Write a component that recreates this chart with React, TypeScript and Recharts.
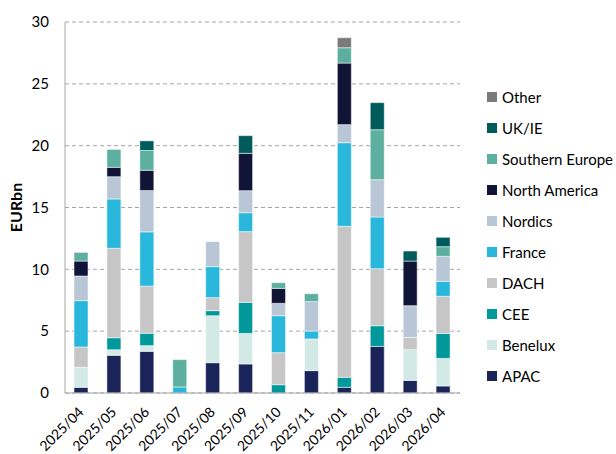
import { Bar, BarChart, CartesianGrid, XAxis, YAxis } from 'recharts'

const months = [
  '2025/04', '2025/05', '2025/06', '2025/07', '2025/08', '2025/09',
  '2025/10', '2025/11', '2026/01', '2026/02', '2026/03', '2026/04',
]

// EURbn per region and month
const apac = [0.46, 3.05, 3.37, 0, 2.45, 2.35, 0, 1.81, 0.46, 3.77, 1.02, 0.57]
const benelux = [1.62, 0.45, 0.46, 0, 3.8, 2.47, 0, 2.56, 0, 0, 2.48, 2.23]
const cee = [0, 0.97, 1.0, 0, 0.41, 2.51, 0.67, 0, 0.81, 1.67, 0, 2.02]
const dach = [1.64, 7.23, 3.81, 0, 1.05, 5.72, 2.59, 0, 12.21, 4.61, 1.0, 3.0]
const france = [3.75, 3.99, 4.39, 0.49, 2.51, 1.53, 2.99, 0.64, 6.76, 4.18, 0, 1.21]
const nordics = [1.99, 1.8, 3.34, 0, 2.02, 1.78, 1.0, 2.38, 1.46, 3.02, 2.56, 2.02]
const northAmerica = [1.21, 0.76, 1.64, 0, 0, 3.02, 1.21, 0, 4.98, 0, 3.61, 0]
const southernEurope = [0.7, 1.45, 1.6, 2.21, 0, 0, 0.46, 0.64, 1.24, 4.04, 0, 0.78]
const ukIe = [0, 0, 0.78, 0, 0, 1.43, 0, 0, 0, 2.19, 0.81, 0.76]
const other = [0, 0, 0, 0, 0, 0, 0, 0, 0.81, 0, 0, 0]

const yTicks = [0, 5, 10, 15, 20, 25, 30]

const series = [
  { key: 'APAC', values: apac, color: '#1b2459' },
  { key: 'Benelux', values: benelux, color: '#d3e9e5' },
  { key: 'CEE', values: cee, color: '#00989b' },
  { key: 'DACH', values: dach, color: '#c6c6c6' },
  { key: 'France', values: france, color: '#29b8db' },
  { key: 'Nordics', values: nordics, color: '#b8c6d6' },
  { key: 'North America', values: northAmerica, color: '#111437' },
  { key: 'Southern Europe', values: southernEurope, color: '#5db09f' },
  { key: 'UK/IE', values: ukIe, color: '#005c5c' },
  { key: 'Other', values: other, color: '#7a7a7a' },
]

const rows = months.map((month, i) => {
  const row: Record<string, string | number> = { month }
  series.forEach((s) => {
    row[s.key] = s.values[i]
  })
  return row
})

const FONT = 'Lato, "Liberation Sans", sans-serif'

const MonthTick = ({ x, y, payload }: any) => (
  <text
    x={x + 3}
    y={y + 12}
    transform={`rotate(-45 ${x + 3} ${y + 12})`}
    textAnchor="end"
    fontSize={14}
    fill="#000"
    fontFamily={FONT}
  >
    {payload.value}
  </text>
)

// legend sits beside the plot, top entry first
const LegendList = () => (
  <div
    style={{
      position: 'absolute',
      left: 487,
      top: 81,
      fontFamily: FONT,
      fontSize: 15,
      color: '#000',
    }}
  >
    {[...series].reverse().map((s) => (
      <div key={s.key} style={{ display: 'flex', alignItems: 'center', height: 31 }}>
        <span style={{ width: 10, height: 10, background: s.color, marginRight: 5 }} />
        <span>{s.key}</span>
      </div>
    ))}
  </div>
)

export default function App() {
  return (
    <div style={{ position: 'absolute', left: 0, top: 0, width: 616, height: 454, background: '#fff' }}>
      <BarChart
        width={616}
        height={454}
        data={rows}
        margin={{ top: 22, right: 156, left: 0, bottom: 0 }}
        barSize={14}
      >
        <CartesianGrid vertical={false} stroke="#a6a6a6" strokeDasharray="4 3" />
        <XAxis
          dataKey="month"
          interval={0}
          tick={<MonthTick />}
          tickLine={false}
          axisLine={{ stroke: '#a6a6a6' }}
          height={61}
        />
        <YAxis
          width={65}
          domain={[0, 30]}
          ticks={yTicks}
          tickLine={false}
          tickSize={0}
          tickMargin={16}
          axisLine={{ stroke: '#a6a6a6' }}
          tick={{ fontSize: 15, fill: '#000', fontFamily: FONT }}
          label={{
            value: 'EURbn',
            angle: -90,
            position: 'insideLeft',
            offset: 16,
            style: { fontSize: 16, fontWeight: 700, fill: '#000', fontFamily: FONT, textAnchor: 'middle' },
          }}
        />
        {series.map((s) => (
          <Bar
            key={s.key}
            dataKey={s.key}
            stackId="regions"
            fill={s.color}
            stroke="#ffffff"
            strokeWidth={0.5}
            isAnimationActive={false}
          />
        ))}
      </BarChart>
      <LegendList />
    </div>
  )
}
